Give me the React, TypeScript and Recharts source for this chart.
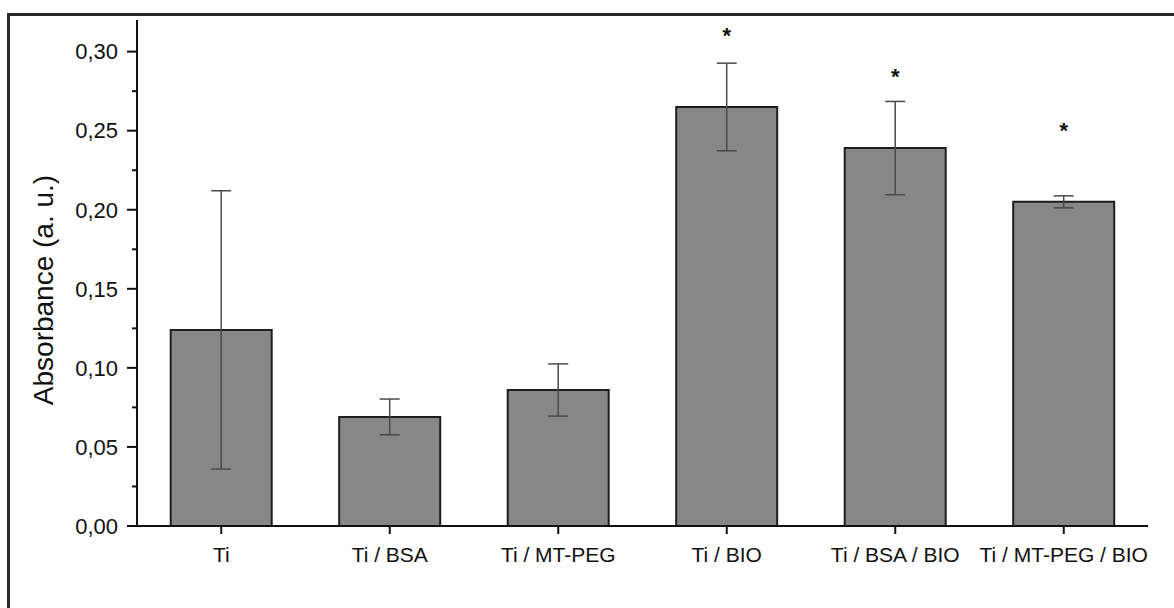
import { ComposedChart, Bar, XAxis, YAxis, ErrorBar, Scatter, Label } from "recharts";

const groups = ["Ti", "Ti / BSA", "Ti / MT-PEG", "Ti / BIO", "Ti / BSA / BIO", "Ti / MT-PEG / BIO"];
const absorbance = [0.124, 0.069, 0.086, 0.265, 0.239, 0.205];
const deviation = [0.088, 0.0113, 0.0165, 0.0277, 0.0295, 0.0038];
// where the significance asterisks sit (y value)
const starLevel: (number | null)[] = [null, null, null, 0.313, 0.287, 0.253];
const yTicks = [0, 0.025, 0.05, 0.075, 0.1, 0.125, 0.15, 0.175, 0.2, 0.225, 0.25, 0.275, 0.3];

const data = groups.map((name, i) => ({
  name,
  value: absorbance[i],
  err: deviation[i],
  star: starLevel[i],
}));

const FONT = "'Liberation Sans', Arial, sans-serif";

const YTick = (props: any) => {
  const { x, y, payload } = props;
  const v = payload.value as number;
  const major = Math.round(v * 1000) % 50 === 0;
  const axisX = x + 19;
  return (
    <g>
      <line x1={axisX - (major ? 10 : 5)} x2={axisX} y1={y} y2={y} stroke="#111" strokeWidth={2} />
      {major && (
        <text x={x} y={y} dy="0.355em" textAnchor="end" fontSize={22} fill="#111" fontFamily={FONT}>
          {v.toFixed(2).replace(".", ",")}
        </text>
      )}
    </g>
  );
};

const Star = (props: any) => {
  const { cx, cy, payload } = props;
  if (payload == null || payload.star == null || cy == null || isNaN(cy)) return null;
  return (
    <text x={cx} y={cy + 12} textAnchor="middle" fontSize={22} fontWeight="bold" fill="#111" fontFamily={FONT}>
      *
    </text>
  );
};

const YLabel = () => (
  <text
    x={43}
    y={290}
    transform="rotate(-90, 43, 290)"
    textAnchor="middle"
    dominantBaseline="central"
    fontSize={28}
    fill="#111"
    fontFamily={FONT}
  >
    Absorbance (a. u.)
  </text>
);

const App = () => {
  return (
    <div style={{ position: "absolute", left: 0, top: 0, width: 1174, height: 608, overflow: "hidden", background: "#fff" }}>
      <div
        style={{
          position: "absolute",
          left: 7,
          top: 13,
          width: 1180,
          height: 700,
          border: "3px solid #2a2a2a",
          boxSizing: "border-box",
        }}
      />
      <div style={{ position: "absolute", left: 0, top: 0 }}>
        <ComposedChart
          width={1174}
          height={608}
          data={data}
          margin={{ top: 20, right: 26, bottom: 52, left: 0 }}
          barCategoryGap="20%"
        >
          <XAxis
            dataKey="name"
            height={30}
            axisLine={{ stroke: "#111", strokeWidth: 2 }}
            tickLine={{ stroke: "#111", strokeWidth: 2 }}
            tickSize={8}
            tickMargin={13}
            interval={0}
            tick={{ fontSize: 21, fill: "#111", fontFamily: FONT }}
          />
          <YAxis
            width={137}
            domain={[0, 0.32]}
            ticks={yTicks}
            interval={0}
            axisLine={{ stroke: "#111", strokeWidth: 2 }}
            tickLine={false}
            tickSize={10}
            tickMargin={9}
            tick={<YTick />}
          >
            <Label content={<YLabel />} />
          </YAxis>
          <Bar dataKey="value" fill="#878787" stroke="#1e1e1e" strokeWidth={2} isAnimationActive={false}>
            <ErrorBar dataKey="err" width={10} stroke="#4a4a4a" strokeWidth={1.5} />
          </Bar>
          <Scatter dataKey="star" shape={<Star />} isAnimationActive={false} />
        </ComposedChart>
      </div>
    </div>
  );
};

export default App;
